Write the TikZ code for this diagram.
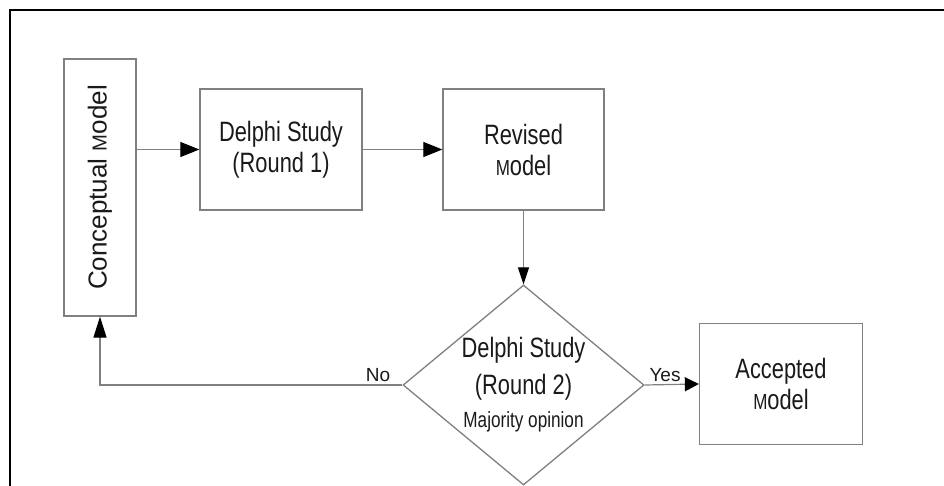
\documentclass[tikz,border=0pt]{standalone}
\usepackage{fontspec}
\usepackage{graphicx}
\setmainfont{Liberation Sans}[FakeStretch=0.78]
\newfontfamily\plainsans{Liberation Sans}
\usetikzlibrary{shapes.geometric,arrows.meta}
\definecolor{boxline}{HTML}{808080}
\definecolor{txt}{HTML}{1A1A1A}
\newcommand\smallM{\scalebox{0.78}{M}}
\tikzset{
  boxnode/.style={draw=boxline, line width=1.3pt, rectangle, inner sep=0pt, align=center,
    text=txt, font=\fontsize{28}{31}\selectfont},
  conn/.style={draw=boxline, line width=1.2pt},
  harrow/.style={conn, -{Triangle[length=19pt,width=15pt,color=black]}},
  yesarrow/.style={conn, -{Triangle[length=14pt,width=14pt,color=black]}},
  downarrow/.style={conn, -{Triangle[length=17pt,width=11pt,color=black]}},
  uparrow/.style={conn, -{Triangle[length=21pt,width=13pt,color=black]}},
  edgelabel/.style={text=txt, font=\plainsans\fontsize{19}{21}\selectfont, inner sep=1pt}
}
\begin{document}
\begin{tikzpicture}[x=1pt,y=-1pt]
\useasboundingbox (0,0) rectangle (944,486);
\fill[white] (0,0) rectangle (944,486);
\draw[line width=2.2pt, black] (10,486) -- (10,10) -- (944,10);

\node[boxnode, minimum width=72pt, minimum height=257pt] (concept) at (100,187.5)
  {\rotatebox{90}{\plainsans\fontsize{26}{28}\selectfont Conceptual \smallM odel}};
\node[boxnode, minimum width=162pt, minimum height=121pt] (d1) at (281,149.5)
  {Delphi Study\\(Round 1)};
\node[boxnode, minimum width=161pt, minimum height=121pt] (rev) at (523.5,149.5)
  {Revised\\\smallM odel};
\node[draw=boxline, line width=1.3pt, diamond, inner sep=0pt, minimum width=241pt, minimum height=200pt,
  label={[align=center, text=txt, font=\fontsize{28}{37}\selectfont]center:{Delphi Study\\(Round 2)\\[-4pt]{\fontsize{22}{26}\selectfont Majority opinion}}}]
  (d2) at (523.5,385) {};
\node[boxnode, minimum width=163pt, minimum height=121pt] (acc) at (781,384)
  {Accepted\\\smallM odel};

\draw[harrow] (d1.west -| concept.east) -- (d1.west);
\draw[harrow] (d1.east) -- (rev.west);
\draw[downarrow] (rev.south) -- (d2.north);
\draw[yesarrow] (d2.east) -- (acc.west);
\draw[uparrow] (d2.west) -| (concept.south);

\node[edgelabel, anchor=south] (nolab) at (378,383) {No};
\node[edgelabel, anchor=south] (yeslab) at (665,383) {Yes};
\end{tikzpicture}
\end{document}
